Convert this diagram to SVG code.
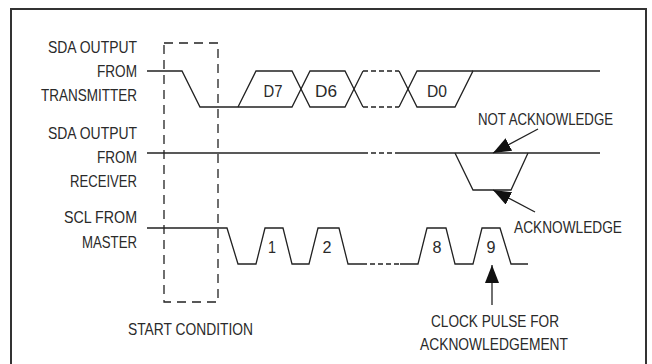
<svg xmlns="http://www.w3.org/2000/svg" width="652" height="364" viewBox="0 0 652 364">
<style>
.t{font-family:"Liberation Sans",Arial,sans-serif;font-size:17px;fill:#2a2a2a;}
.r{text-anchor:end;}
.m{text-anchor:middle;}
.s{fill:none;stroke:#222;stroke-width:1.3;stroke-linejoin:miter;}
.d{fill:none;stroke:#222;stroke-width:1.3;stroke-dasharray:5 3;}
.box{fill:none;stroke:#222;stroke-width:1.3;stroke-dasharray:9 6;}
.a{fill:none;stroke:#222;stroke-width:1.3;}
</style>
<defs>
<marker id="ah" markerUnits="userSpaceOnUse" markerWidth="20" markerHeight="14" refX="18" refY="7" orient="auto">
<path d="M0,0 L18,7 L0,14 Z" fill="#111"/>
</marker>
</defs>
<rect width="652" height="364" fill="#fff"/>
<rect x="11" y="9" width="635" height="360" fill="none" stroke="#333" stroke-width="2"/>

<g id="labels">
<text class="t r" x="137" y="53" textLength="89" lengthAdjust="spacingAndGlyphs">SDA OUTPUT</text>
<text class="t r" x="137" y="77" textLength="40" lengthAdjust="spacingAndGlyphs">FROM</text>
<text class="t r" x="137" y="101" textLength="96" lengthAdjust="spacingAndGlyphs">TRANSMITTER</text>
<text class="t r" x="137" y="139" textLength="89" lengthAdjust="spacingAndGlyphs">SDA OUTPUT</text>
<text class="t r" x="137" y="163" textLength="40" lengthAdjust="spacingAndGlyphs">FROM</text>
<text class="t r" x="137" y="187" textLength="67" lengthAdjust="spacingAndGlyphs">RECEIVER</text>
<text class="t r" x="137" y="223" textLength="73" lengthAdjust="spacingAndGlyphs">SCL FROM</text>
<text class="t r" x="137" y="248" textLength="55" lengthAdjust="spacingAndGlyphs">MASTER</text>
</g>

<g id="start-condition">
<rect class="box" x="164" y="43" width="54" height="259"/>
<text class="t" x="128" y="335" textLength="125" lengthAdjust="spacingAndGlyphs">START CONDITION</text>
</g>

<g id="sda-transmitter">
<path class="s" d="M147,71 H182 L200,107 H292 L310,71 H345 L363,107"/>
<path class="s" d="M238,107 L256,71 H292 L310,107 H345 L363,71"/>
<path class="d" d="M363,71 H399 M363,107 H399"/>
<path class="s" d="M399,71 L417,107 H455 L473,71 H600"/>
<path class="s" d="M399,107 L417,71 H473"/>
<text class="t m" x="273" y="97" textLength="19" lengthAdjust="spacingAndGlyphs">D7</text>
<text class="t m" x="326" y="97" textLength="22" lengthAdjust="spacingAndGlyphs">D6</text>
<text class="t m" x="437" y="97" textLength="20" lengthAdjust="spacingAndGlyphs">D0</text>
</g>

<g id="sda-receiver">
<path class="s" d="M147,153 H363"/>
<path class="d" d="M363,153 H400"/>
<path class="s" d="M400,153 H600"/>
<path class="s" d="M455,153 L473,190 H511 L528,153"/>
</g>

<g id="scl-master">
<path class="s" d="M147,228 H227 L238,264 H256 L265,228 H283 L292,264 H309 L318,228 H339 L348,264 H362"/>
<path class="d" d="M362,264 H400"/>
<path class="s" d="M400,264 H418 L427,228 H446 L455,264 H473 L482,228 H500 L511,264 H528"/>
<text class="t m" x="272" y="253" textLength="8" lengthAdjust="spacingAndGlyphs">1</text>
<text class="t m" x="327" y="253" textLength="9" lengthAdjust="spacingAndGlyphs">2</text>
<text class="t m" x="437" y="253" textLength="9" lengthAdjust="spacingAndGlyphs">8</text>
<text class="t m" x="491" y="253" textLength="9" lengthAdjust="spacingAndGlyphs">9</text>
</g>

<g id="connectors">
<line class="a" x1="538" y1="129" x2="493" y2="153" marker-end="url(#ah)"/>
<line class="a" x1="535" y1="212" x2="493" y2="190" marker-end="url(#ah)"/>
<line class="a" x1="492" y1="305" x2="492" y2="265" marker-end="url(#ah)"/>
</g>

<g id="annotations">
<text class="t" x="478" y="125" textLength="135" lengthAdjust="spacingAndGlyphs">NOT ACKNOWLEDGE</text>
<text class="t" x="514" y="233" textLength="108" lengthAdjust="spacingAndGlyphs">ACKNOWLEDGE</text>
<text class="t" x="431" y="327" textLength="128" lengthAdjust="spacingAndGlyphs">CLOCK PULSE FOR</text>
<text class="t" x="420" y="350" textLength="148" lengthAdjust="spacingAndGlyphs">ACKNOWLEDGEMENT</text>
</g>
</svg>
